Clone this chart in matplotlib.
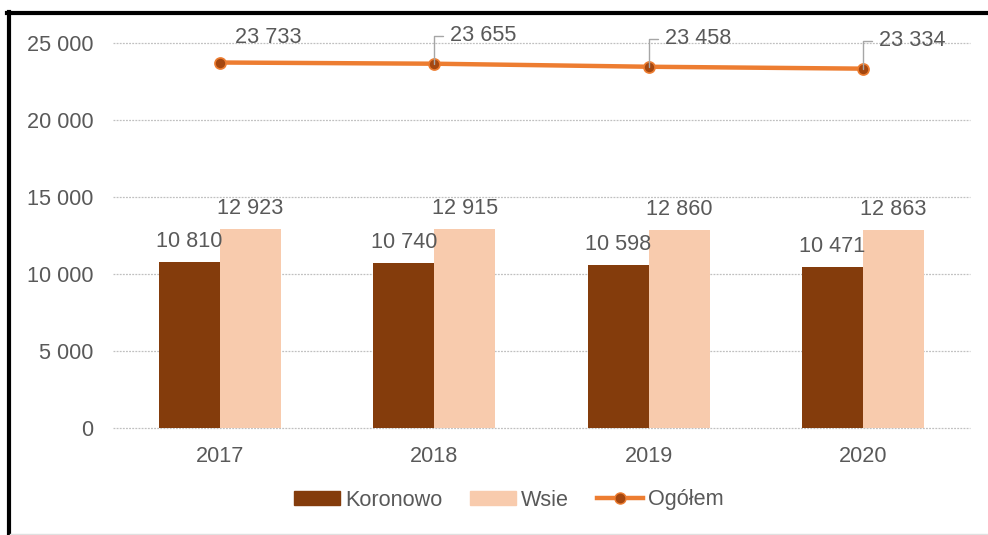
import numpy as np
from matplotlib import pyplot as plt
from matplotlib.lines import Line2D
from matplotlib.patches import Patch

years = ['2017', '2018', '2019', '2020']
koronowo = [10810, 10740, 10598, 10471]
wsie = [12923, 12915, 12860, 12863]
ogolem = [23733, 23655, 23458, 23334]

c_kor = '#843c0c'
c_wsie = '#f8cbad'
c_line = '#ed7d31'
c_text = '#595959'


def fmt(v):
    return '{:,}'.format(v).replace(',', ' ')


plt.rcParams['font.family'] = ['Liberation Sans', 'DejaVu Sans']
plt.rcParams['font.size'] = 15.6

fig = plt.figure(figsize=(9.88, 5.35), dpi=100)
ax = fig.add_axes([113 / 988, 1 - 428 / 535, 857 / 988, 385 / 535])

x = np.arange(len(years))
w = 0.285
ax.bar(x - w / 2, koronowo, w, color=c_kor, zorder=2)
ax.bar(x + w / 2, wsie, w, color=c_wsie, zorder=2)
ax.plot(x, ogolem, color=c_line, lw=3.2, marker='o', ms=8,
        mfc='#a5470f', mec=c_line, mew=1.2, zorder=3)

# bar labels
for i in range(len(years)):
    ax.annotate(fmt(koronowo[i]), (x[i] - w / 2, koronowo[i]), xytext=(0, 10),
                textcoords='offset pixels', ha='center', va='bottom', color=c_text)
    ax.annotate(fmt(wsie[i]), (x[i] + w / 2, wsie[i]), xytext=(0, 10),
                textcoords='offset pixels', ha='center', va='bottom', color=c_text)

# line labels, with leader lines except the first
for i in range(len(years)):
    if i == 0:
        ax.annotate(fmt(ogolem[i]), (x[i], ogolem[i]), xytext=(15, 25),
                    textcoords='offset pixels', ha='left', va='center',
                    color=c_text, annotation_clip=False)
    else:
        ax.annotate(fmt(ogolem[i]), (x[i], ogolem[i]), xytext=(16, 28),
                    textcoords='offset pixels', ha='left', va='center',
                    color=c_text, annotation_clip=False,
                    arrowprops=dict(arrowstyle='-', color='#a6a6a6', lw=1,
                                    connectionstyle='angle,angleA=0,angleB=90,rad=0',
                                    relpos=(0, 0.5), shrinkA=3, shrinkB=0))

ax.set_xlim(-0.5, 3.5)
ax.set_ylim(0, 25000)
ax.set_yticks(np.arange(0, 25001, 5000))
ax.set_yticklabels([fmt(v) for v in range(0, 25001, 5000)])
ax.set_xticks(x)
ax.set_xticklabels(years)
ax.tick_params(axis='y', length=0, pad=14, colors=c_text)
ax.tick_params(axis='x', length=0, pad=13, colors=c_text)
ax.grid(axis='y', color='#c0c0c0', lw=0.9, ls=(0, (1.5, 1)), zorder=0)
for gl in ax.get_ygridlines():
    gl.set_clip_on(False)
for s in ax.spines.values():
    s.set_visible(False)

handles = [Patch(color=c_kor), Patch(color=c_wsie),
           Line2D([], [], color=c_line, lw=3.2, marker='o', ms=8,
                  mfc='#a5470f', mec=c_line)]
fig.legend(handles, ['Koronowo', 'Wsie', 'Ogółem'], loc='center',
           bbox_to_anchor=(509 / 988, 1 - 500 / 535), ncol=3, frameon=False,
           handlelength=2.1, handleheight=0.6, handletextpad=0.25, columnspacing=1.3,
           labelcolor=c_text)

# outer frame
fig.add_artist(Line2D([7 / 988, 1], [1 - 13 / 535, 1 - 13 / 535], color='black', lw=3))
fig.add_artist(Line2D([8.5 / 988, 8.5 / 988], [0, 1 - 12 / 535], color='black', lw=3))
fig.add_artist(Line2D([10 / 988, 1], [1 / 535, 1 / 535], color='#e0e0e0', lw=1))

fig.savefig('out.png', dpi=100, facecolor='white')
